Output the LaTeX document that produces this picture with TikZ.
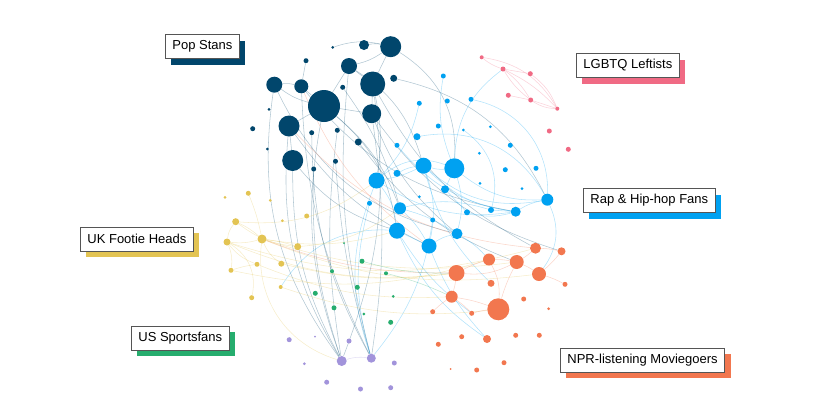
\documentclass[tikz,border=0pt]{standalone}
\usepackage{fontspec}
\setmainfont{Liberation Sans}
\usetikzlibrary{shadows,backgrounds}
\definecolor{popnavy}{HTML}{01466C}
\definecolor{rapblue}{HTML}{00A1F1}
\definecolor{lgbtpink}{HTML}{F06A84}
\definecolor{nprorange}{HTML}{F2774F}
\definecolor{footyellow}{HTML}{E3C453}
\definecolor{usgreen}{HTML}{26AD6E}
\definecolor{uspurple}{HTML}{A294DB}
\definecolor{labgray}{HTML}{555555}
\tikzset{
  dot/.style={circle, inner sep=0pt, fill=#1},
  link/.style={draw=#1, line width=0.55pt, opacity=0.3},
  lab/.style={draw=labgray, line width=0.8pt, fill=white, anchor=west,
    inner xsep=7pt, minimum height=24pt, font=\fontsize{13}{15}\selectfont,
    copy shadow={shadow xshift=6pt, shadow yshift=-6pt, fill=#1, draw=none}},
}
\begin{document}
\begin{tikzpicture}[x=1pt,y=-1pt]
\useasboundingbox (0,0) rectangle (840,400);
% Pop Stans
\foreach \n/\x/\y/\r in {1/332.7/47.3/1.5, 2/364/45/5, 3/390.7/46.7/10.5, 4/306/60.7/2.5,
  5/349/66/8, 6/274.3/84.7/8, 7/301.3/86.3/7, 8/372.7/84/12.5, 9/393.7/78.3/3.5,
  10/342.7/87.3/2.5, 11/324/106/16, 12/269/109.3/1.5, 13/371.7/113.7/9.5, 14/289/126/10.5,
  15/252.7/128.7/2.5, 16/311.7/132.7/2.5, 17/337.3/130.3/2.5, 18/358.3/142/3.5,
  19/267.3/149/1.5, 20/292.7/160.5/10.5, 21/313.7/169/2.5, 22/335.5/161.3/2.5}
  \node[dot=popnavy, minimum size={2*\r}] (p\n) at (\x,\y) {};
% Rap & Hip-hop
\foreach \n/\x/\y/\r in {1/443.3/76/2.5, 2/419.3/103.3/2.5, 3/447.3/101/2.5, 4/471/99.3/2.5,
  5/438.3/126/2.5, 6/463.3/130/1.5, 7/490.3/126.7/1.5, 8/417/136.7/3.5, 9/397/145.3/2.5,
  10/510.3/145.3/2.5, 11/479.3/153.3/1.5, 12/423.5/165.7/8, 13/454.3/168.3/10,
  14/376.5/180.5/8, 15/397/173.3/3.5, 16/445/189.3/4, 17/480/183.3/1.5, 18/505.3/169.7/2.5,
  19/536/168.3/2.5, 20/522/188.7/1.5, 21/547.3/199.7/6, 22/369.5/203.3/2.5, 23/419.3/196.7/1.5,
  24/400/208.3/6, 25/467/212.3/3, 26/491/210/3, 27/515.7/211.7/5, 28/432.7/220/2.5,
  29/397/230.7/8, 30/457/233.7/5.5, 31/429/246/7.5}
  \node[dot=rapblue, minimum size={2*\r}] (b\n) at (\x,\y) {};
% LGBTQ
\foreach \n/\x/\y/\r in {1/481.7/57.3/2, 2/503/69/2.5, 3/530.3/73.7/2.5, 4/508.3/95.3/2.5,
  5/530.7/100/2.5, 6/557.3/108.7/2, 7/549.3/131/2.5, 8/568.3/149.3/2.5}
  \node[dot=lgbtpink, minimum size={2*\r}] (k\n) at (\x,\y) {};
% NPR
\foreach \n/\x/\y/\r in {1/535.5/248.2/5.5, 2/561.5/251.3/4, 3/489/259.5/6, 4/516.7/262/7,
  5/539/274/7, 6/456.5/273/8, 7/491/283.3/3.5, 8/565/284.3/2.5, 9/451.7/296.7/6,
  10/523.7/299/2.5, 11/498.3/309.3/11, 12/432.7/311.7/2.5, 13/471.7/313.3/2.5,
  14/548.7/308.7/1.5, 15/461.7/336.7/2.5, 16/487/339/4, 17/515.7/335.3/2.5,
  18/539.3/335.3/2.5, 19/438.3/344.3/2.5, 20/504/362.7/2.5, 21/450.7/369/1, 22/476.7/370/2.5}
  \node[dot=nprorange, minimum size={2*\r}] (o\n) at (\x,\y) {};
% UK Footie
\foreach \n/\x/\y/\r in {1/225/197.3/1.5, 2/248.3/193.3/2.5, 3/270.3/200.3/1.5, 4/235.7/221.7/3.5,
  5/306.7/216/2.5, 6/282.3/220.7/1.5, 7/227/242/3.5, 8/262/239/4.5, 9/297.7/246.7/3.5,
  10/257/264.3/2.5, 11/281.3/263.7/3, 12/231/270.3/2.5, 13/280.7/287/2, 14/251.7/297.7/2.5}
  \node[dot=footyellow, minimum size={2*\r}] (y\n) at (\x,\y) {};
% US Sports (green)
\foreach \n/\x/\y/\r in {1/344/243/1, 2/362/261.2/2.5, 3/332/271.2/2, 4/386/273.3/2,
  5/357.3/287.3/2.5, 6/315.3/293.3/2.5, 7/393.2/296.3/1.5, 8/334/307.8/2.5,
  9/363.8/314/1.5, 10/390.7/322.3/2.5}
  \node[dot=usgreen, minimum size={2*\r}] (g\n) at (\x,\y) {};
% purple
\foreach \n/\x/\y/\r in {1/289.2/339.7/2.5, 2/315/336.7/1, 3/349/341/2.5, 4/341.7/361/5,
  5/371.3/358.2/4.5, 6/394.3/363/2.5, 7/304.3/363.7/1.5, 8/326.7/382.2/2.5,
  9/360.5/389/2.5, 10/390.7/387.7/2.5}
  \node[dot=uspurple, minimum size={2*\r}] (u\n) at (\x,\y) {};

\begin{pgfonlayer}{background}
% links
\foreach \a/\b/\c in {p2/p3/10, p1/p3/15, p5/p3/-10, p5/p8/0, p3/p8/0, p7/p11/0, p6/p7/10,
  p6/p11/-10, p11/p13/0, p14/p11/0, p20/p14/0, p8/p13/0, p4/p7/0, p5/p11/0, p11/u4/-15,
  p14/u4/-18, p20/u4/-14, p6/u4/-22, p7/u5/-12, p13/u5/8, p8/u4/14, p5/u5/-10, p22/u5/-6,
  p17/u4/-8, p11/b29/20, p13/b30/-14, p8/o1/-16, p13/o2/-18, p11/b24/14, p5/b12/20,
  p3/b13/30, p8/b14/10, p14/b31/-14, p20/b29/-16, p9/b21/25, p18/o4/-16, p7/b27/-20,
  p16/u5/-14, p21/u4/-10, p10/b24/10, p6/b30/-25}
  \draw[link=popnavy] (\a) to[bend left=\c] (\b);
\foreach \a/\b/\c in {b13/b12/10, b12/b14/8, b13/b21/-20, b14/b29/15, b24/b30/8, b29/b31/0,
  b31/b30/10, b27/b21/10, b25/b27/-15, b26/b27/0, b16/b13/0, b15/b12/10, b12/b31/15,
  b13/b30/15, b31/o16/-10, b29/o16/-15, b22/u5/-15, b14/u5/-20, b28/u5/15, k2/b13/-25,
  b1/b13/-15, b2/b14/15, b8/b21/35, b9/b27/-20, b4/b21/40, b14/b27/-20, y13/b29/30,
  b21/o5/30, b12/b27/-18, b24/b26/15, b16/b25/0, b29/o13/-10, b12/o7/-15, b14/b13/30,
  b24/b31/8, b30/o3/8, b12/b21/-25, b6/b26/35}
  \draw[link=rapblue] (\a) to[bend left=\c] (\b);
\foreach \a/\b/\c in {y7/y4/15, y4/y8/8, y8/y7/10, y7/y12/15, y12/y10/5, y8/y9/5, y8/y11/-15,
  y7/o6/-14, y7/o1/-16, y8/o4/-12, y8/o5/-14, y12/o3/-14, y8/u4/-40, y4/b14/-20, y9/b24/-15,
  y8/b29/-12, y10/o9/-12, y11/o6/-10, y13/o11/-12, y7/y10/-15, y4/y9/-15, y7/y14/35, y2/y8/5}
  \draw[link=footyellow] (\a) to[bend left=\c] (\b);
\foreach \a/\b/\c in {k1/k2/-10, k1/k6/25, k2/k5/10, k2/k6/10, k2/k3/0, k4/k5/0, k5/k6/0,
  k3/k6/15, k2/k5/-10, k5/k6/-15}
  \draw[link=lgbtpink] (\a) to[bend left=\c] (\b);
\foreach \a/\b/\c in {o1/o2/5, o3/o4/5, o4/o5/5, o1/o4/5, o6/o9/5, o9/o11/5, o11/o4/5,
  o6/o3/5, o12/o9/5, o13/o11/5, o5/o8/5, p14/o1/-20, y8/o6/-10, p7/b31/-15, o2/o5/5,
  o3/o11/15, o6/o4/-15, o9/o13/5}
  \draw[link=nprorange] (\a) to[bend left=\c] (\b);
\foreach \a/\b/\c in {g2/o6/-8, g4/o9/5}
  \draw[link=usgreen] (\a) to[bend left=\c] (\b);
\draw[link=uspurple] (u4) to[bend left=12] (u5);
\end{pgfonlayer}

% labels
\node[lab=popnavy] (pop) at (165,46.5) {Pop Stans};
\node[lab=lgbtpink] (lgbt) at (576,65.5) {LGBTQ Leftists};
\node[lab=rapblue] (rap) at (583,200.5) {Rap \& Hip-hop Fans};
\node[lab=footyellow] (uk) at (80,239) {UK Footie Heads};
\node[lab=usgreen] (us) at (131,338) {US Sportsfans};
\node[lab=nprorange] (npr) at (560,360) {NPR-listening Moviegoers};
\end{tikzpicture}
\end{document}
